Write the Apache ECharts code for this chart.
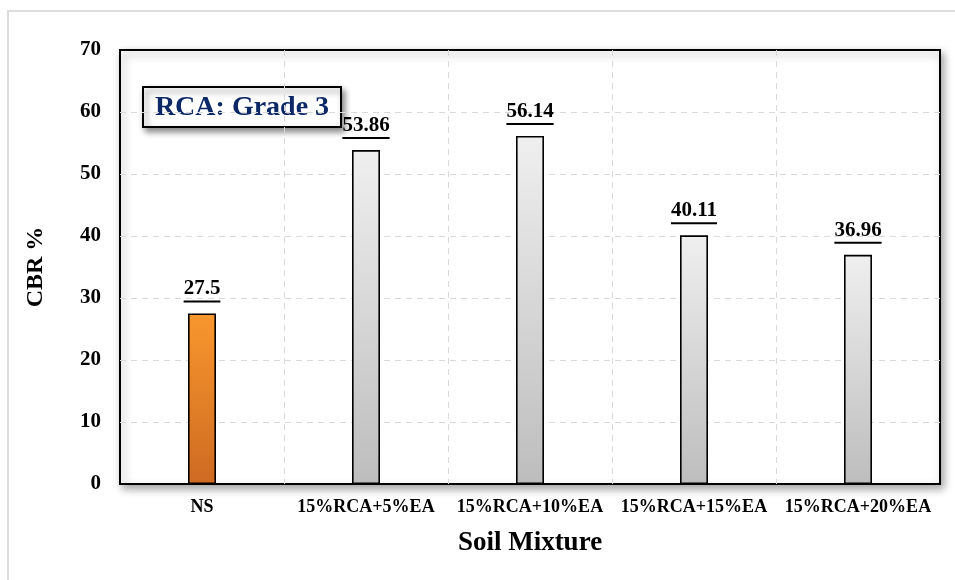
<!DOCTYPE html>
<html>
<head>
<meta charset="utf-8">
<script src="https://cdn.jsdelivr.net/npm/echarts@6/dist/echarts.min.js"></script>
<style>
  html, body { margin: 0; padding: 0; background: #fff; }
  #chart { width: 955px; height: 580px; }
</style>
</head>
<body>
<div id="chart"></div>
<script>
// CBR results for each soil mixture
const categories = ['NS', '15%RCA+5%EA', '15%RCA+10%EA', '15%RCA+15%EA', '15%RCA+20%EA'];
const cbrValues = [27.5, 53.86, 56.14, 40.11, 36.96];
const valueLabels = ['27.5', '53.86', '56.14', '40.11', '36.96'];
const yTicks = [0, 10, 20, 30, 40, 50, 60, 70];

const serif = '"Liberation Serif", "Times New Roman", serif';
const labelFont = 'bold 21px ' + serif;

const measureCtx = document.createElement('canvas').getContext('2d');
function textWidth(str, font) {
  measureCtx.font = font;
  return measureCtx.measureText(str).width;
}

const orangeFill = new echarts.graphic.LinearGradient(0, 0, 0, 1, [
  { offset: 0, color: '#F8972D' },
  { offset: 1, color: '#CE6A22' }
]);
const greyFill = new echarts.graphic.LinearGradient(0, 0, 0, 1, [
  { offset: 0, color: '#EFEFEF' },
  { offset: 1, color: '#BDBDBD' }
]);

const gridBox = { left: 120, top: 50, right: 15, bottom: 96 };

const chart = echarts.init(document.getElementById('chart'), null, { renderer: 'canvas' });

chart.setOption({
  backgroundColor: '#fff',
  animation: false,
  grid: {
    left: gridBox.left, top: gridBox.top, right: gridBox.right, bottom: gridBox.bottom,
    show: true,
    backgroundColor: '#fff',
    borderColor: '#000',
    borderWidth: 2,
    shadowColor: 'rgba(0,0,0,0.35)',
    shadowBlur: 8,
    shadowOffsetX: 3,
    shadowOffsetY: 4
  },
  xAxis: {
    type: 'category',
    data: categories,
    axisLine: { show: false },
    axisTick: { show: false },
    axisLabel: {
      color: '#000', fontFamily: serif, fontWeight: 'bold', fontSize: 18, margin: 14,
      interval: 0
    },
    splitLine: {
      show: true, showMinLine: false, showMaxLine: false,
      lineStyle: { color: '#d9d9d9', type: [6, 5], width: 1 }
    },
    name: 'Soil Mixture',
    nameLocation: 'middle',
    nameGap: 46,
    nameTextStyle: { color: '#000', fontFamily: serif, fontWeight: 'bold', fontSize: 27 }
  },
  yAxis: {
    type: 'value',
    min: yTicks[0],
    max: yTicks[yTicks.length - 1],
    interval: 10,
    axisLine: { show: false },
    axisTick: { show: false },
    axisLabel: {
      color: '#000', fontFamily: serif, fontWeight: 'bold', fontSize: 21, margin: 19
    },
    splitLine: {
      show: true, showMinLine: false, showMaxLine: false,
      lineStyle: { color: '#d9d9d9', type: [6, 5], width: 1 }
    },
    name: 'CBR %',
    nameLocation: 'middle',
    nameGap: 72,
    nameRotate: 90,
    nameTextStyle: { color: '#000', fontFamily: serif, fontWeight: 'bold', fontSize: 24 }
  },
  series: [
    {
      type: 'bar',
      barWidth: 28,
      data: cbrValues.map((v, i) => ({
        value: v,
        itemStyle: { color: i === 0 ? orangeFill : greyFill }
      })),
      itemStyle: { borderColor: '#000', borderWidth: 1.6 },
      z: 3
    },
    {
      // underlined value labels above each bar
      type: 'custom',
      data: cbrValues.map((v, i) => [i, v]),
      z: 5,
      renderItem: function (params, api) {
        const idx = api.value(0);
        const p = api.coord([idx, api.value(1)]);
        const txt = valueLabels[idx];
        const w = textWidth(txt, labelFont);
        const baseY = p[1] - 14;
        return {
          type: 'group',
          children: [
            {
              type: 'text',
              style: {
                text: txt,
                x: p[0], y: baseY,
                align: 'center', verticalAlign: 'bottom',
                font: labelFont, fill: '#000'
              }
            },
            {
              type: 'line',
              shape: { x1: p[0] - w / 2, y1: baseY + 2, x2: p[0] + w / 2, y2: baseY + 2 },
              style: { stroke: '#000', lineWidth: 2 }
            }
          ]
        };
      }
    }
  ],
  graphic: [
    {
      type: 'polyline',
      shape: { points: [[8, 600], [8, 11], [960, 11]] },
      style: { stroke: '#dcdcdc', lineWidth: 2, fill: null },
      z: 0
    },
    {
      type: 'group',
      left: 142, top: 86, z: 10,
      children: [
        {
          type: 'rect',
          shape: { x: 0, y: 0, width: 198, height: 40 },
          style: {
            fill: '#fff', stroke: '#000', lineWidth: 2,
            shadowColor: 'rgba(0,0,0,0.45)', shadowBlur: 6, shadowOffsetX: 3, shadowOffsetY: 4
          }
        },
        {
          type: 'text',
          style: {
            text: 'RCA: Grade 3',
            x: 99, y: 21,
            align: 'center', verticalAlign: 'middle',
            font: 'bold 28px ' + serif, fill: '#0D2866'
          }
        }
      ]
    }
  ]
});
</script>
</body>
</html>
